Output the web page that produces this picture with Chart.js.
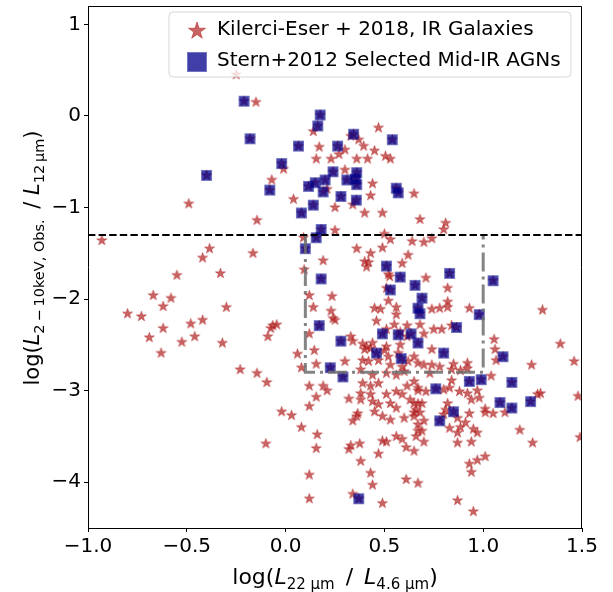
<!DOCTYPE html>
<html>
<head>
<meta charset="utf-8">
<script src="https://cdn.jsdelivr.net/npm/chart.js@4.4.1/dist/chart.umd.min.js"></script>
<style>
    html, body { margin: 0; padding: 0; background: #fff; }
    canvas { display: block; }
</style>
</head>
<body>
<canvas id="chart" width="613" height="592"></canvas>
<script>
// Tick values
const xTicks = [-1.0, -0.5, 0.0, 0.5, 1.0, 1.5];
const yTicks = [1, 0, -1, -2, -3, -4];

// Kilerci-Eser+2018 IR galaxies (log L22/L4.6, log L2-10/L12)
const galaxyPoints = [
    [-0.25,0.45],[-0.15,0.15],[0.14,-0.17],[0.47,-0.13],[0.33,-0.22],[0.37,-0.26],[0.395,-0.33],[0.17,-0.34],
    [0.30,-0.37],[0.27,-0.42],[0.45,-0.38],[0.155,-0.47],[0.23,-0.47],[0.36,-0.47],[0.415,-0.47],[0.505,-0.44],
    [0.53,-0.47],[-0.01,-0.58],[-0.07,-0.70],[0.30,-0.59],[0.44,-0.74],[0.21,-0.80],[0.43,-0.87],[0.34,-0.97],
    [0.25,-1.00],[0.04,-0.91],[0.40,-1.06],[0.49,-1.06],[0.65,-0.85],[-0.145,-1.14],[0.68,-1.13],[0.25,-1.25],
    [0.09,-1.33],[0.50,-1.29],[0.53,-1.35],[0.64,-1.37],[-0.165,-1.50],[0.36,-1.45],[0.49,-1.44],[0.43,-1.50],
    [0.62,-1.52],[0.19,-1.58],[0.40,-1.59],[0.42,-1.60],[0.41,-1.65],[0.59,-1.61],[0.094,-1.68],[0.52,-1.73],
    [0.527,-1.755],[0.51,-1.88],[0.12,-1.96],[0.235,-1.97],[0.52,-2.02],[0.14,-2.09],[0.45,-2.10],[0.48,-2.11],
    [0.56,-2.09],[0.23,-2.13],[0.56,-2.17],[0.24,-2.21],[0.25,-2.23],[0.46,-2.24],[0.55,-2.28],[0.615,-2.29],
    [-0.065,-2.29],[-0.045,-2.28],[-0.075,-2.32],[-0.09,-2.41],[0.12,-2.38],[0.51,-2.33],[0.58,-2.36],[0.615,-2.41],
    [0.33,-2.41],[0.34,-2.46],[0.39,-2.49],[0.41,-2.52],[0.44,-2.48],[0.43,-2.54],[0.40,-2.55],[0.51,-2.52],
    [0.58,-2.50],[0.145,-2.56],
    [-0.49,-0.96],[-0.93,-1.36],[-0.385,-1.45],[-0.42,-1.55],[-0.55,-1.74],[-0.33,-1.72],[-0.67,-1.96],[-0.58,-1.99],
    [-0.62,-2.08],[-0.30,-2.09],[-0.80,-2.16],[-0.73,-2.19],[-0.62,-2.32],[-0.48,-2.27],[-0.42,-2.23],[-0.69,-2.42],
    [-0.525,-2.47],[-0.46,-2.41],[-0.32,-2.48],[-0.63,-2.59],[-0.23,-2.77],[-0.145,-2.81],
    [0.06,-2.60],[0.155,-2.71],[0.08,-2.75],[0.30,-2.68],[0.52,-2.63],[0.50,-2.56],[0.47,-2.67],[0.57,-2.59],
    [0.65,-2.63],[0.62,-2.68],[0.67,-2.70],[0.59,-2.74],[0.53,-2.72],[0.39,-2.67],[0.42,-2.68],[-0.095,-2.91],
    [0.12,-2.95],[0.19,-2.95],[0.21,-3.00],[0.155,-3.07],[0.12,-3.17],[0.32,-3.09],
    [0.38,-2.77],[0.44,-2.83],[0.39,-2.92],[0.43,-2.95],[0.47,-2.92],[0.51,-2.81],[0.56,-2.83],[0.60,-2.79],
    [0.65,-2.90],[0.615,-2.95],[0.67,-2.97],[0.38,-3.03],[0.43,-3.04],[0.51,-3.04],[0.56,-3.01],[0.59,-3.04],
    [0.63,-3.10],[0.67,-3.14],[0.38,-3.10],[0.44,-3.12],[0.47,-3.15],[0.53,-3.14],[0.56,-3.19],[0.45,-3.23],
    [0.49,-3.28],[0.53,-3.32],[0.60,-3.30],[0.65,-3.24],[0.67,-3.37],[0.56,-3.50],[0.59,-3.53],[0.49,-3.55],
    [0.51,-3.56],[0.61,-3.62],[0.65,-3.66],[0.47,-3.69],
    [-0.02,-3.23],[0.03,-3.27],[0.08,-3.40],[0.16,-3.48],[0.34,-3.33],[0.36,-3.28],[0.365,-3.25],[-0.10,-3.58],
    [0.155,-3.63],[0.33,-3.60],[0.32,-3.64],[0.375,-3.58],[0.38,-3.77],[0.43,-3.90],[0.44,-4.03],[0.12,-3.92],
    [0.61,-3.97],[0.67,-4.01],[0.34,-4.13],[0.12,-4.18],[0.49,-4.23],
    [0.74,-2.55],[1.39,-2.49],[1.055,-2.44],[1.06,-2.55],[1.065,-2.67],[1.245,-2.72],[1.46,-2.68],[0.70,-2.72],
    [0.74,-2.72],[0.78,-2.74],[0.85,-2.71],[0.92,-2.70],[0.92,-2.76],[0.84,-2.77],[0.885,-2.78],[0.73,-2.81],
    [0.84,-2.89],[1.04,-2.84],[0.67,-3.00],[0.71,-3.01],[0.80,-2.99],[0.83,-2.97],[0.88,-3.01],[0.92,-3.03],
    [0.97,-3.00],[0.98,-3.08],[0.94,-3.10],[1.275,-3.04],[1.29,-3.03],[1.48,-3.06],[1.11,-3.24],[1.01,-3.20],
    [1.01,-3.24],[1.05,-3.25],[0.93,-3.25],[0.82,-3.14],[0.65,-3.14],[0.66,-3.21],[0.68,-3.24],[0.70,-3.33],
    [0.65,-3.28],[0.69,-3.14],[0.81,-3.21],[0.80,-3.26],[0.87,-3.30],[0.91,-3.35],[0.885,-3.40],[0.83,-3.41],
    [0.87,-3.46],[0.95,-3.42],[0.97,-3.46],[0.67,-3.44],[0.69,-3.44],[0.66,-3.50],[0.70,-3.56],[0.87,-3.57],
    [0.94,-3.56],[1.185,-3.43],[1.25,-3.57],[1.49,-3.51],[1.01,-3.72],[0.97,-3.76],[0.93,-3.80],[0.94,-3.89],
    [0.87,-4.20],[0.95,-4.32],
    [0.81,-1.17],[0.80,-1.24],[0.70,-1.38],[0.74,-1.34],[0.71,-1.77],[0.82,-1.88],[0.82,-2.03],[0.82,-2.09],
    [0.78,-2.10],[0.74,-2.11],[0.93,-2.10],[1.30,-2.12],[0.68,-2.28],[0.84,-2.29],[0.75,-2.33],[0.79,-2.33],
    [0.70,-2.38]
];

// Stern+2012 mid-IR selected AGNs (also in the galaxy sample)
const agnPoints = [
    [-0.21,0.16],[-0.18,-0.25],[-0.40,-0.65],[0.175,0.01],[0.163,-0.11],[0.344,-0.20],[0.54,-0.26],[0.065,-0.33],
    [0.263,-0.33],[-0.02,-0.52],[0.24,-0.61],[0.36,-0.62],[0.116,-0.77],[0.15,-0.73],[0.20,-0.70],[0.19,-0.83],
    [0.31,-0.70],[0.353,-0.69],[0.36,-0.75],[0.28,-0.88],[0.358,-0.92],[-0.08,-0.81],[0.14,-0.975],[0.08,-1.06],
    [0.56,-0.79],[0.57,-0.84],[0.18,-1.24],[0.155,-1.33],[0.10,-1.45],[0.51,-1.64],[0.18,-1.78],[0.58,-1.76],
    [0.655,-1.85],[0.53,-1.90],[0.67,-2.10],[0.68,-2.16],[0.17,-2.29],[0.49,-2.38],[0.57,-2.39],[0.635,-2.38],
    [0.67,-2.48],[0.28,-2.46],[0.46,-2.59],[0.83,-1.72],[1.05,-1.80],[0.69,-1.99],[0.98,-2.17],[0.865,-2.31],
    [0.80,-2.59],[0.585,-2.65],[0.226,-2.75],[0.29,-2.85],[0.37,-4.18],[1.10,-2.63],[0.93,-2.90],[0.99,-2.88],
    [1.145,-2.91],[0.76,-2.98],[1.24,-3.12],[1.085,-3.13],[1.145,-3.19],[0.85,-3.23],[0.78,-3.33]
];

// Selection lines
const xrayCut = [[-1.0,-1.3],[1.5,-1.3]];
const wedgeBox = [[0.1,-1.3],[0.1,-2.8],[1.0,-2.8],[1.0,-1.3]];

const FONT = "'DejaVu Sans', sans-serif";
const STAR_COLOR = 'rgba(178, 34, 34, 0.7)';

function toXY(list) {
    return list.map(p => ({ x: p[0], y: p[1] }));
}

function fmtMinus(s) {
    return String(s).replace('-', '\u2212');
}

function makeStar(r) {
    const size = Math.ceil(r * 2) + 4;
    const c = document.createElement('canvas');
    c.width = size;
    c.height = size;
    const g = c.getContext('2d');
    const inner = r * 0.381966;
    g.beginPath();
    for (let i = 0; i < 10; i++) {
        const rad = i % 2 === 0 ? r : inner;
        const a = -Math.PI / 2 + i * Math.PI / 5;
        const px = size / 2 + rad * Math.cos(a);
        const py = size / 2 + rad * Math.sin(a);
        if (i === 0) g.moveTo(px, py); else g.lineTo(px, py);
    }
    g.closePath();
    g.fillStyle = STAR_COLOR;
    g.fill();
    g.lineWidth = 0.8;
    g.strokeStyle = STAR_COLOR;
    g.stroke();
    return c;
}

function makeSquare(side) {
    const size = Math.ceil(side) + 2;
    const c = document.createElement('canvas');
    c.width = size;
    c.height = size;
    const g = c.getContext('2d');
    const o = (size - side) / 2;
    g.fillStyle = 'rgba(0, 0, 139, 0.55)';
    g.fillRect(o, o, side, side);
    g.fillStyle = 'rgba(0, 0, 139, 0.45)';
    g.fillRect(o + 1, o + 1, side - 2, side - 2);
    return c;
}

const starImg = makeStar(5.2);
const squareImg = makeSquare(11);
const legendStar = makeStar(9);
const legendSquare = makeSquare(20);

// draw a row of text pieces (mathtext-like), centred on x
function drawRich(ctx, parts, x, y) {
    let total = 0;
    parts.forEach(p => {
        ctx.font = (p.italic ? 'italic ' : '') + p.size + 'px ' + FONT;
        p.w = ctx.measureText(p.t).width;
        total += p.w;
    });
    let cx = x - total / 2;
    ctx.textAlign = 'left';
    ctx.textBaseline = 'alphabetic';
    parts.forEach(p => {
        ctx.font = (p.italic ? 'italic ' : '') + p.size + 'px ' + FONT;
        ctx.fillText(p.t, cx, y + (p.dy || 0));
        cx += p.w;
    });
}

const decorPlugin = {
    id: 'decor',
    afterDraw(chart) {
        const ctx = chart.ctx;
        const a = chart.chartArea;
        ctx.save();

        // top and right spines
        ctx.strokeStyle = '#000';
        ctx.lineWidth = 1;
        ctx.beginPath();
        ctx.moveTo(Math.round(a.left) + 0.5, Math.round(a.top) + 0.5);
        ctx.lineTo(Math.round(a.right) - 0.5, Math.round(a.top) + 0.5);
        ctx.lineTo(Math.round(a.right) - 0.5, Math.round(a.bottom));
        ctx.stroke();

        // legend box
        const bx = 169, by = 12, bw = 402, bh = 65, r = 4;
        ctx.beginPath();
        ctx.moveTo(bx + r, by);
        ctx.arcTo(bx + bw, by, bx + bw, by + bh, r);
        ctx.arcTo(bx + bw, by + bh, bx, by + bh, r);
        ctx.arcTo(bx, by + bh, bx, by, r);
        ctx.arcTo(bx, by, bx + bw, by, r);
        ctx.closePath();
        ctx.fillStyle = 'rgba(255, 255, 255, 0.8)';
        ctx.fill();
        ctx.strokeStyle = 'rgba(204, 204, 204, 0.8)';
        ctx.lineWidth = 1;
        ctx.stroke();

        ctx.drawImage(legendStar, 197 - legendStar.width / 2, 31 - legendStar.height / 2);
        ctx.drawImage(legendSquare, 197 - legendSquare.width / 2, 62 - legendSquare.height / 2);
        ctx.fillStyle = '#000';
        ctx.font = '20px ' + FONT;
        ctx.textAlign = 'left';
        ctx.textBaseline = 'middle';
        ctx.fillText(chart.data.datasets[0].label, 217, 30);
        ctx.fillText(chart.data.datasets[1].label, 217, 61);

        // axis titles
        drawRich(ctx, [
            { t: 'log(', size: 22 },
            { t: 'L', size: 22, italic: true },
            { t: '22 \u03bcm', size: 15, dy: 5 },
            { t: '\u2002/\u2002', size: 22 },
            { t: 'L', size: 22, italic: true },
            { t: '4.6 \u03bcm', size: 15, dy: 5 },
            { t: ')', size: 22 }
        ], (a.left + a.right) / 2, 584);

        ctx.translate(39, 258);
        ctx.rotate(-Math.PI / 2);
        drawRich(ctx, [
            { t: 'log(', size: 21 },
            { t: 'L', size: 21, italic: true },
            { t: '2\u2009\u2212\u200910keV, Obs.', size: 14.5, dy: 5 },
            { t: '\u2002/ ', size: 21 },
            { t: 'L', size: 21, italic: true },
            { t: '12\u2009\u03bcm', size: 14.5, dy: 5 },
            { t: ')', size: 21 }
        ], 0, 0);
        ctx.restore();
    }
};

const tickFont = { family: FONT, size: 20 };

new Chart(document.getElementById('chart'), {
    type: 'scatter',
    data: {
        datasets: [
            {
                label: 'Kilerci-Eser + 2018, IR Galaxies',
                data: toXY(galaxyPoints.concat(agnPoints)),
                pointStyle: starImg,
                pointRadius: 5,
                order: 4,
                clip: 0
            },
            {
                label: 'Stern+2012 Selected Mid-IR AGNs',
                data: toXY(agnPoints),
                pointStyle: squareImg,
                pointRadius: 5,
                order: 3,
                clip: 0
            },
            {
                type: 'line',
                label: 'wedge',
                data: toXY(wedgeBox),
                borderColor: 'rgba(110, 110, 110, 0.85)',
                borderWidth: 3,
                borderDash: [19, 5, 3, 5],
                pointRadius: 0,
                fill: false,
                tension: 0,
                order: 2
            },
            {
                type: 'line',
                label: 'cut',
                data: toXY(xrayCut),
                borderColor: '#000',
                borderWidth: 2,
                borderDash: [7.4, 3.2],
                pointRadius: 0,
                fill: false,
                order: 1
            }
        ]
    },
    options: {
        responsive: false,
        animation: false,
        devicePixelRatio: 1,
        events: [],
        layout: { padding: { top: 2, right: 31, left: 0, bottom: 0 } },
        plugins: {
            legend: { display: false },
            tooltip: { enabled: false }
        },
        scales: {
            x: {
                type: 'linear',
                min: -1.0,
                max: 1.5,
                afterBuildTicks: scale => { scale.ticks = xTicks.map(v => ({ value: v })); },
                afterFit: scale => {
                    scale.height = 64;
                    scale.paddingLeft = 0;
                    scale.paddingRight = 0;
                },
                ticks: {
                    font: tickFont,
                    color: '#000',
                    padding: 3,
                    maxRotation: 0,
                    autoSkip: false,
                    callback: v => fmtMinus(Number(v).toFixed(1))
                },
                grid: { drawOnChartArea: false, drawTicks: true, tickLength: 4, tickColor: '#000', tickWidth: 1 },
                border: { color: '#000', width: 1 }
            },
            y: {
                type: 'linear',
                min: -4.5,
                max: 1.2,
                afterBuildTicks: scale => { scale.ticks = yTicks.map(v => ({ value: v })); },
                afterFit: scale => {
                    scale.width = 88;
                    scale.paddingTop = 0;
                    scale.paddingBottom = 0;
                },
                ticks: {
                    font: tickFont,
                    color: '#000',
                    padding: 3,
                    autoSkip: false,
                    callback: v => fmtMinus(String(v))
                },
                grid: { drawOnChartArea: false, drawTicks: true, tickLength: 4, tickColor: '#000', tickWidth: 1 },
                border: { color: '#000', width: 1 }
            }
        }
    },
    plugins: [decorPlugin]
});
</script>
</body>
</html>
